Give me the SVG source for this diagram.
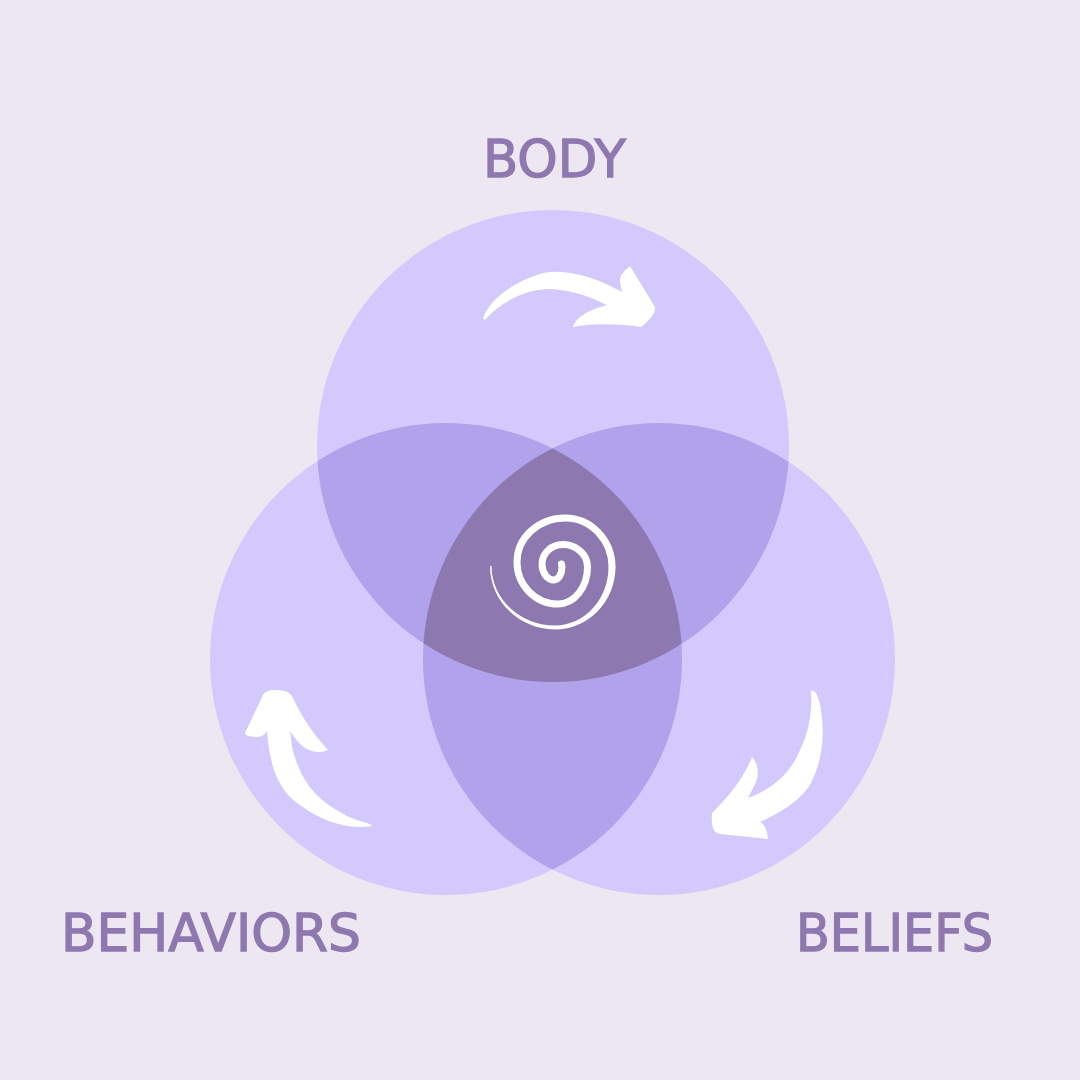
<svg xmlns="http://www.w3.org/2000/svg" width="1080" height="1080" viewBox="0 0 1080 1080">
<style>
.lbl{font-family:"DejaVu Sans","Liberation Sans",sans-serif;font-size:51px;fill:#8F78B0;stroke:#8F78B0;stroke-width:1.3px}
.c1{fill:#D3C9FD}
.c2{fill:#B0A2EB}
.c3{fill:#8D79AF}
.w{fill:#FFFFFF}
</style>
<defs>
<clipPath id="clipTop"><circle cx="553" cy="446" r="236"/></clipPath>
<clipPath id="clipLeft"><circle cx="446" cy="659" r="236"/></clipPath>
<clipPath id="clipRight"><circle cx="659" cy="659" r="236"/></clipPath>
</defs>
<rect width="1080" height="1080" fill="#ECE7F0"/>
<g id="node-body">
<circle class="c1" cx="553" cy="446" r="236"/>
<text class="lbl" x="483" y="177" textLength="143" lengthAdjust="spacingAndGlyphs">BODY</text>
</g>
<g id="node-behaviors">
<circle class="c1" cx="446" cy="659" r="236"/>
<text class="lbl" x="61" y="951" textLength="300" lengthAdjust="spacingAndGlyphs">BEHAVIORS</text>
</g>
<g id="node-beliefs">
<circle class="c1" cx="659" cy="659" r="236"/>
<text class="lbl" x="796" y="951" textLength="197" lengthAdjust="spacingAndGlyphs">BELIEFS</text>
</g>
<g id="overlaps">
<circle class="c2" cx="553" cy="446" r="236" clip-path="url(#clipLeft)"/>
<circle class="c2" cx="553" cy="446" r="236" clip-path="url(#clipRight)"/>
<circle class="c2" cx="446" cy="659" r="236" clip-path="url(#clipRight)"/>
<g clip-path="url(#clipRight)"><circle class="c3" cx="553" cy="446" r="236" clip-path="url(#clipLeft)"/></g>
</g>
<g id="center-spiral">
<path class="w" d="M490,566 C490,601 519.1,629.5 555,629.5 C588.4,629.5 615.5,601.5 615.5,567 L608.5,567 C608.5,599.3 584.5,625.5 555,625.5 C520,625.5 491.5,598.8 491.5,566 Z"/>
<path fill="none" stroke="#FFFFFF" stroke-width="7" stroke-linecap="round" d="M612,567 C612,540 591,518 565,518 C538.5,518 517,537.7 517,562 C517,585.2 535.4,604 558,604 C574.3,604 587.5,587.4 587.5,567 C587.5,554.6 576.5,544.5 563,544.5 C551.4,544.5 542,553.2 542,564 C542,572.8 547.4,580 554,580 C558.4,580 562,574.2 562,567 L561.5,564"/>
</g>
<g id="connectors">
<path class="w" d="M483,318 C490,300 510,283 543,273 C570,268 600,280 622,292 L620,282 C619,276 625,270 630,266 L655,307 C656,312 650,320 641,327 C620,324 595,323 573,327 C576,318 585,311 607,305 C585,294 565,289 547,289 C525,290 500,302 485,320 Z"/>
<path class="w" d="M267,731 C269,760 276,790 300,805 C320,820 345,830 372,826 C370,822 355,822 340,812 C315,798 300,780 292,747 L290,731 C296,740 302,748 312,751 C318,753 324,752 328,750 C315,736 302,718 293,698 C290,692 285,690 275,690 C268,690 265,692 263,695 L246,731 C244,735 247,737 257,737 C262,737 265,734 267,731 Z"/>
<path class="w" d="M811,691 C814,689 818,694 820,705 C826,735 822,765 808,788 C795,805 775,815 760,822 C765,824 767,830 768,839 L720,834 C713,833 711,825 712,813 C725,800 742,782 752,757 C757,762 760,772 756,782 L748,798 C770,790 790,775 800,750 C810,730 812,710 811,691 Z"/>
</g>
</svg>
